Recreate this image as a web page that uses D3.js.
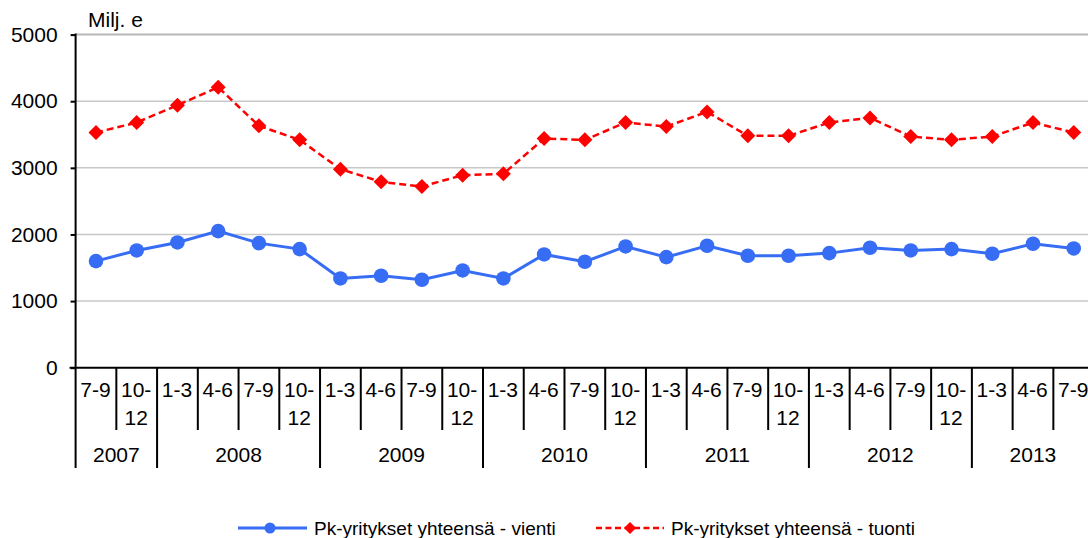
<!DOCTYPE html>
<html>
<head>
<meta charset="utf-8">
<script src="https://cdn.jsdelivr.net/npm/d3@7"></script>
<style>
  html, body { margin: 0; padding: 0; background: #fff; }
  svg { display: block; font-family: "Liberation Sans", Arial, sans-serif; }
</style>
</head>
<body>
<svg id="chart" width="1088" height="538"></svg>
<script>
// Quarterly values, million euros
const quarters = ["7-9","10-12",
  "1-3","4-6","7-9","10-12",
  "1-3","4-6","7-9","10-12",
  "1-3","4-6","7-9","10-12",
  "1-3","4-6","7-9","10-12",
  "1-3","4-6","7-9","10-12",
  "1-3","4-6","7-9"];
const years = ["2007","2008","2009","2010","2011","2012","2013"];
const quartersPerYear = [2, 4, 4, 4, 4, 4, 3];

const vienti = [1600, 1760, 1880, 2050, 1870, 1780, 1340, 1380, 1320, 1460,
  1340, 1700, 1590, 1820, 1660, 1830, 1680, 1680, 1720, 1800,
  1760, 1780, 1710, 1860, 1790];
const tuonti = [3530, 3680, 3940, 4210, 3630, 3420, 2980, 2790, 2720, 2890,
  2910, 3440, 3420, 3680, 3620, 3840, 3480, 3480, 3680, 3750,
  3470, 3420, 3470, 3680, 3530];

const yTicks = [0, 1000, 2000, 3000, 4000, 5000];
const unitLabel = "Milj. e";
const seriesNames = ["Pk-yritykset yhteensä - vienti", "Pk-yritykset yhteensä - tuonti"];

const blue = "#376df4";
const red = "#ff0000";
const axisFont = 21;

const svg = d3.select("#chart");

const x = d3.scaleBand()
  .domain(d3.range(quarters.length))
  .range([75.6, 1094.1])
  .padding(0);
const y = d3.scaleLinear().domain([0, 5000]).range([367.7, 34.6]);
const cx = i => x(i) + x.bandwidth() / 2;

// Horizontal gridlines
svg.append("g")
  .selectAll("line")
  .data(yTicks.filter(d => d > 0))
  .join("line")
  .attr("x1", x.range()[0]).attr("x2", 1088)
  .attr("y1", d => y(d)).attr("y2", d => y(d))
  .attr("stroke", d => d === 5000 ? "#b8b8b8" : "#c8c8c8")
  .attr("stroke-width", d => d === 5000 ? 2 : 1.5);

// Y axis
const yAxis = svg.append("g")
  .attr("transform", `translate(${x.range()[0]},0)`)
  .call(d3.axisLeft(y).tickValues(yTicks).tickSize(5).tickPadding(13).tickFormat(d3.format("d")));
yAxis.select(".domain").remove();
yAxis.selectAll(".tick line").attr("stroke", "#000").attr("stroke-width", 2);
yAxis.selectAll(".tick text")
  .attr("font-size", axisFont).attr("fill", "#000")
  .attr("font-family", "Liberation Sans, Arial, sans-serif");
svg.append("line")
  .attr("x1", x.range()[0]).attr("x2", x.range()[0])
  .attr("y1", y(5000) - 1).attr("y2", 468)
  .attr("stroke", "#000").attr("stroke-width", 2);

svg.append("text")
  .attr("x", 88).attr("y", 27)
  .attr("font-size", axisFont).attr("fill", "#000")
  .text(unitLabel);

// X axis baseline
svg.append("line")
  .attr("x1", x.range()[0] - 6).attr("x2", 1088)
  .attr("y1", y(0)).attr("y2", y(0))
  .attr("stroke", "#000").attr("stroke-width", 2);

// Category separators: year boundaries run longer than quarter boundaries
const yearStarts = new Set();
let acc = 0;
const yearSpans = years.map((yr, k) => {
  const start = acc;
  yearStarts.add(start);
  acc += quartersPerYear[k];
  return { year: yr, start, end: acc };
});
svg.append("g")
  .selectAll("line")
  .data(d3.range(1, quarters.length + 1))
  .join("line")
  .attr("x1", i => x.range()[0] + i * x.bandwidth())
  .attr("x2", i => x.range()[0] + i * x.bandwidth())
  .attr("y1", y(0))
  .attr("y2", i => yearStarts.has(i) ? 468 : 430)
  .attr("stroke", "#000").attr("stroke-width", 2);

// Quarter labels (long ones wrap after the hyphen)
const qLabels = svg.append("g")
  .attr("font-size", axisFont).attr("fill", "#000").attr("text-anchor", "middle");
quarters.forEach((q, i) => {
  const lines = q.length > 3 ? [q.slice(0, 3), q.slice(3)] : [q];
  const t = qLabels.append("text").attr("x", cx(i) - 0.5).attr("y", 397);
  lines.forEach((ln, j) => {
    t.append("tspan").attr("x", cx(i) - 0.5).attr("dy", j === 0 ? 0 : 28).text(ln);
  });
});

// Year labels centred over their quarters
svg.append("g")
  .attr("font-size", axisFont).attr("fill", "#000").attr("text-anchor", "middle")
  .selectAll("text")
  .data(yearSpans)
  .join("text")
  .attr("x", d => (x.range()[0] + d.start * x.bandwidth() + Math.min(x.range()[0] + d.end * x.bandwidth(), 1088 + 6)) / 2)
  .attr("y", 462)
  .text(d => d.year);

// Lines
const line = d3.line().x((d, i) => cx(i)).y(d => y(d));

svg.append("path")
  .datum(tuonti)
  .attr("d", line)
  .attr("fill", "none")
  .attr("stroke", red).attr("stroke-width", 2.5)
  .attr("stroke-dasharray", "7,4");

svg.append("path")
  .datum(vienti)
  .attr("d", line)
  .attr("fill", "none")
  .attr("stroke", blue).attr("stroke-width", 3);

// Markers
const diamond = r => `M0,${-r}L${r},0L0,${r}L${-r},0Z`;
svg.append("g")
  .selectAll("path")
  .data(tuonti)
  .join("path")
  .attr("transform", (d, i) => `translate(${cx(i)},${y(d)})`)
  .attr("d", diamond(7.5))
  .attr("fill", red);

svg.append("g")
  .selectAll("circle")
  .data(vienti)
  .join("circle")
  .attr("cx", (d, i) => cx(i)).attr("cy", d => y(d))
  .attr("r", 7.3)
  .attr("fill", blue);

// Legend
const legY = 528;
const leg = svg.append("g");
leg.append("line")
  .attr("x1", 238).attr("x2", 307).attr("y1", legY).attr("y2", legY)
  .attr("stroke", blue).attr("stroke-width", 3);
leg.append("circle").attr("cx", 270).attr("cy", legY).attr("r", 5.5).attr("fill", blue);
leg.append("text").attr("x", 314).attr("y", legY + 7)
  .attr("font-size", 19).attr("fill", "#000").text(seriesNames[0]);

leg.append("line")
  .attr("x1", 596).attr("x2", 664).attr("y1", legY).attr("y2", legY)
  .attr("stroke", red).attr("stroke-width", 2.5)
  .attr("stroke-dasharray", "6,3.5");
leg.append("path").attr("transform", `translate(630,${legY})`).attr("d", diamond(6)).attr("fill", red);
leg.append("text").attr("x", 671).attr("y", legY + 7)
  .attr("font-size", 19).attr("fill", "#000").text(seriesNames[1]);
</script>
</body>
</html>
